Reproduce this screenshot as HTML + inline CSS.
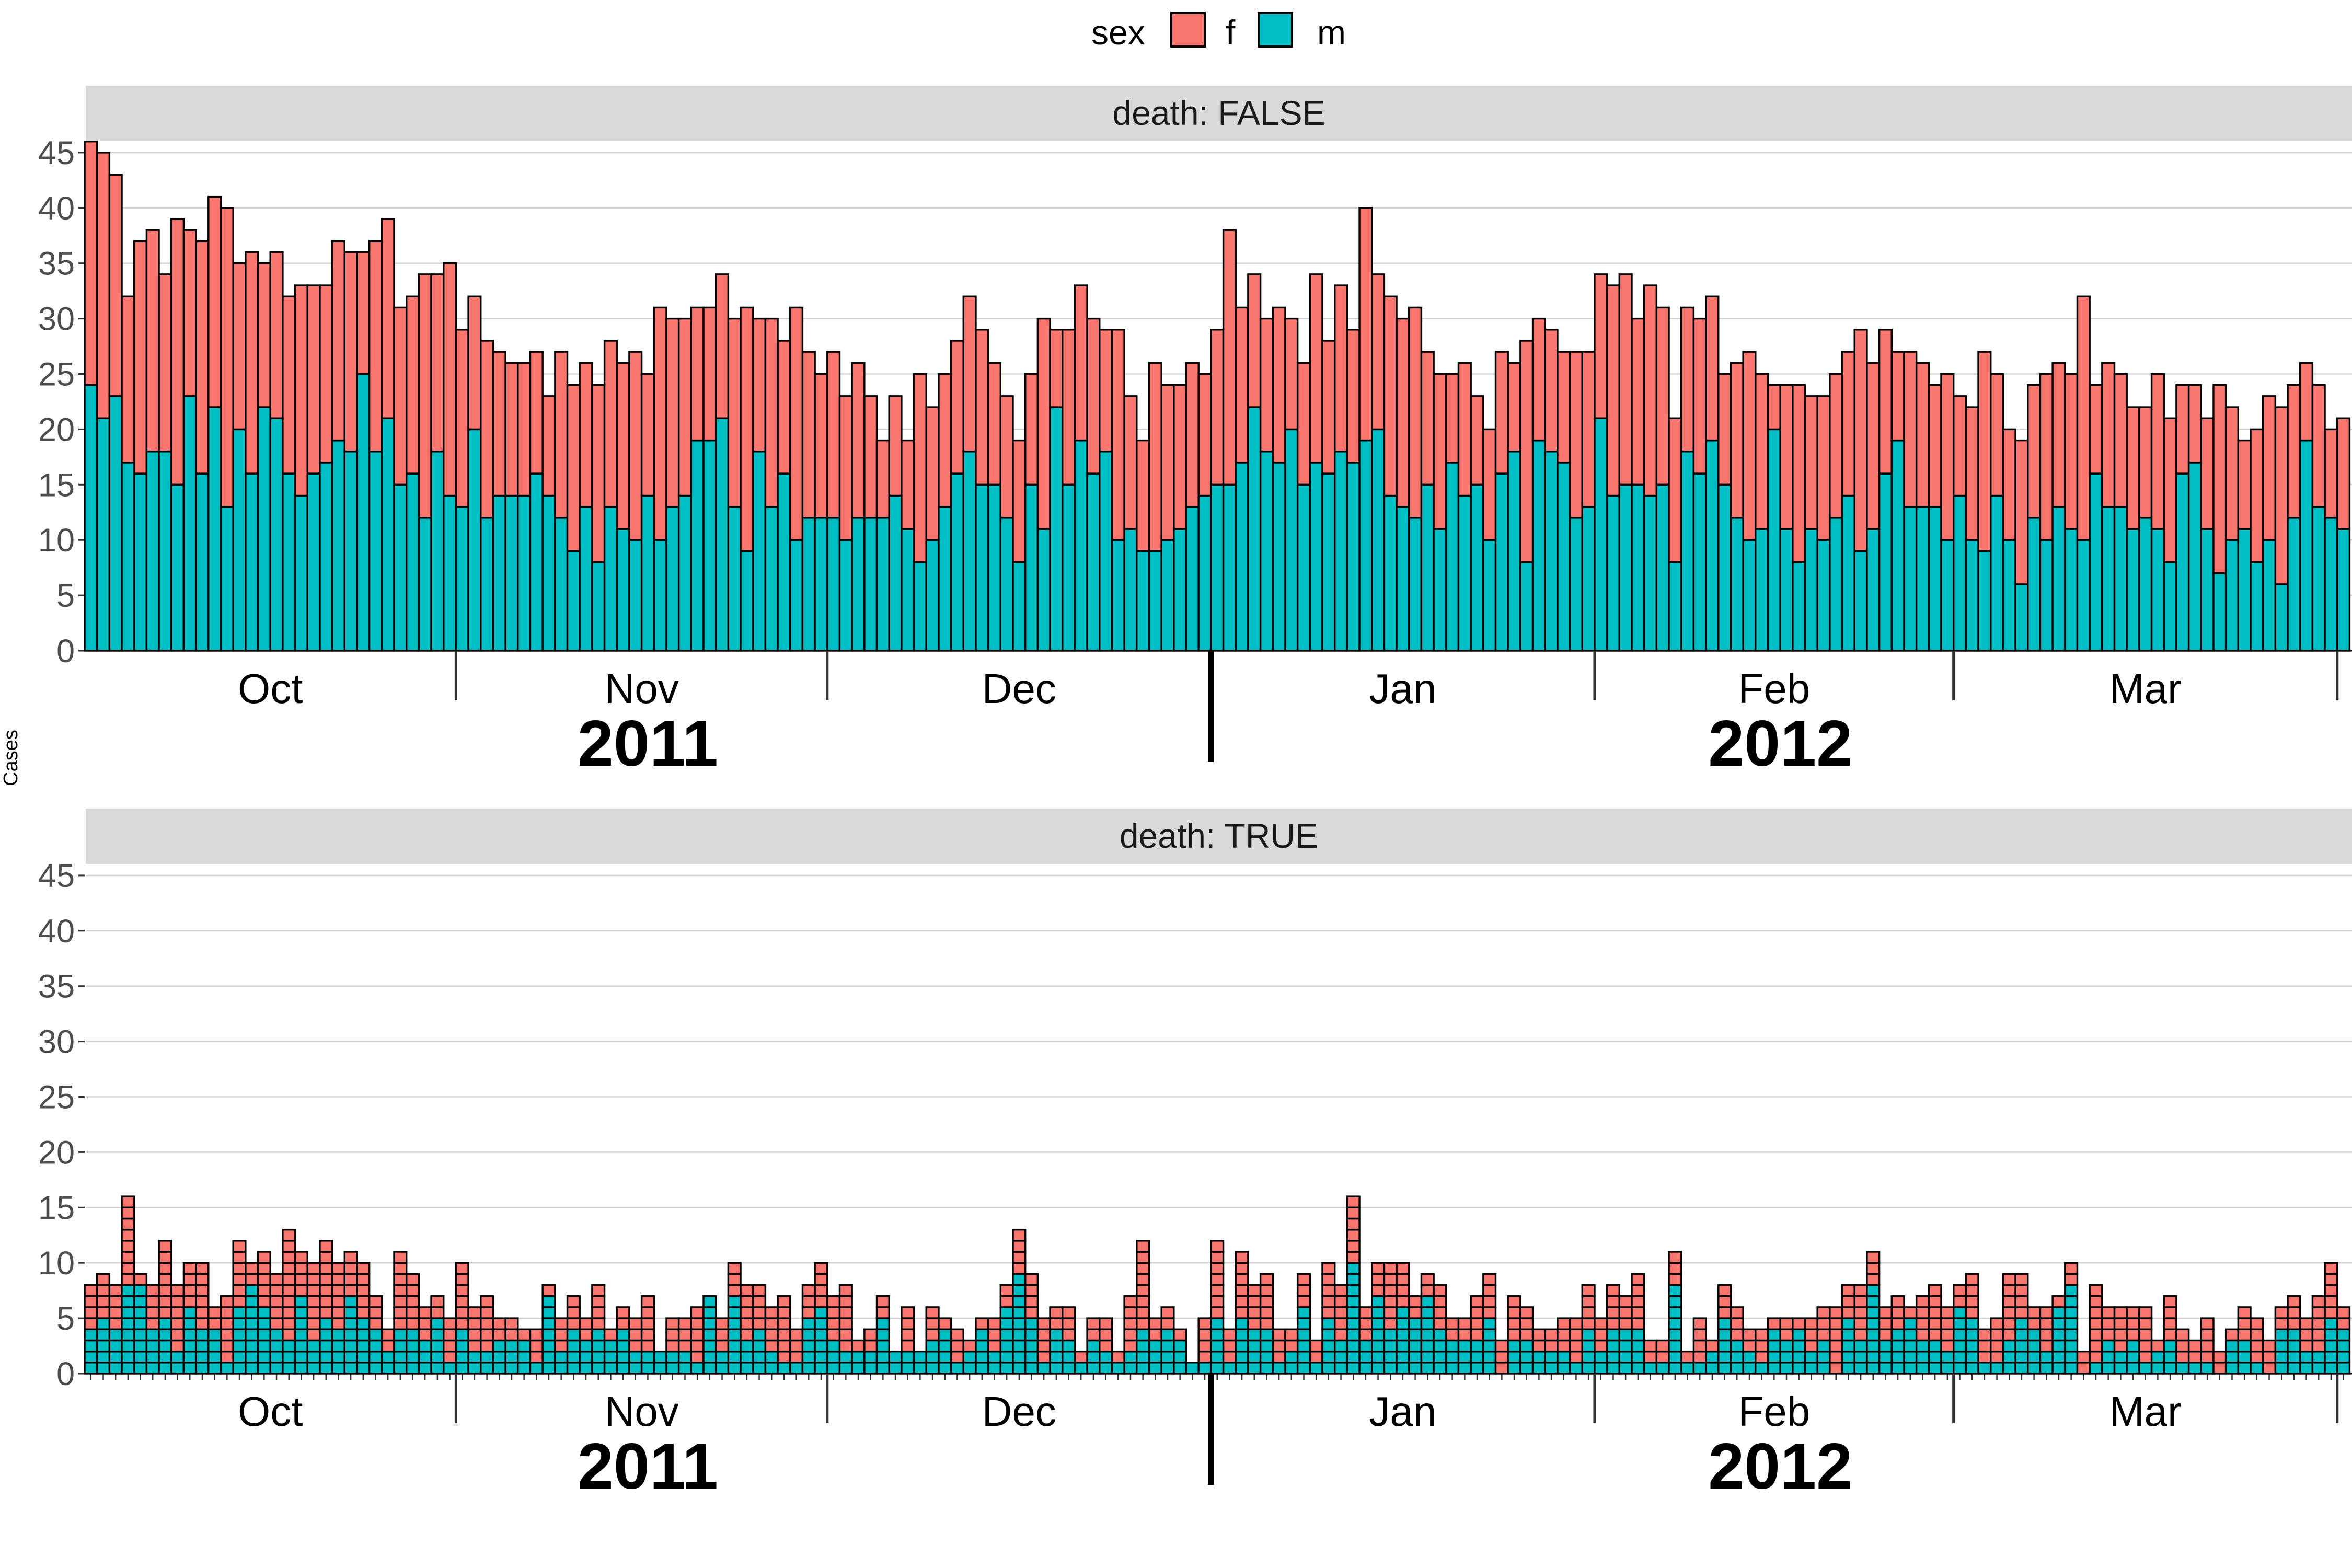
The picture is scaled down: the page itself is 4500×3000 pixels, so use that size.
<!DOCTYPE html>
<html><head><meta charset="utf-8"><style>
html,body{margin:0;padding:0;background:#fff;}
svg{display:block;font-family:"Liberation Sans",sans-serif;}
</style></head><body>
<svg id="chart" width="4500" height="3000" viewBox="0 0 4500 3000" xmlns="http://www.w3.org/2000/svg">
<g>
<text x="2088" y="85" font-size="66" fill="#000">sex</text>
<rect x="2241" y="25" width="64" height="64" fill="#F8766D" stroke="#000" stroke-width="4"/>
<text x="2345" y="85" font-size="66">f</text>
<rect x="2408" y="25" width="64" height="64" fill="#00BFC4" stroke="#000" stroke-width="4"/>
<text x="2520" y="85" font-size="66">m</text>
</g>
<text transform="translate(33,1450) rotate(-90)" text-anchor="middle" font-size="38">Cases</text>
<g id="panels"></g>
</svg>
<script>
const maleTop=[24,21,23,17,16,18,18,15,23,16,22,13,20,16,22,21,16,14,16,17,19,18,25,18,21,15,16,12,18,14,13,
20,12,14,14,14,16,14,12,9,13,8,13,11,10,14,10,13,14,19,19,21,13,9,18,13,16,10,12,12,12,
10,12,12,12,14,11,8,10,13,16,18,15,15,12,8,15,11,22,15,19,16,18,10,11,9,9,10,11,13,14,
15,15,17,22,18,17,20,15,17,16,18,17,19,20,14,13,12,15,11,17,14,15,10,16,18,8,19,18,17,12,13,
21,14,15,15,14,15,8,18,16,19,15,12,10,11,20,11,8,11,10,12,14,9,11,16,19,13,13,13,10,14,
10,9,14,10,6,12,10,13,11,10,16,13,13,11,12,11,8,16,17,11,7,10,11,8,10,6,12,19,13,12,11];
const femaleTop=[22,24,20,15,21,20,16,24,15,21,19,27,15,20,13,15,16,19,17,16,18,18,11,19,18,16,16,22,16,21,16,
12,16,13,12,12,11,9,15,15,13,16,15,15,17,11,21,17,16,12,12,13,17,22,12,17,12,21,15,13,15,
13,14,11,7,9,8,17,12,12,12,14,14,11,11,11,10,19,7,14,14,14,11,19,12,10,17,14,13,13,11,
14,23,14,12,12,14,10,11,17,12,15,12,21,14,18,17,19,12,14,8,12,8,10,11,8,20,11,11,10,15,14,
13,19,19,15,19,16,13,13,14,13,10,14,17,14,4,13,16,12,13,13,13,20,15,13,8,14,13,11,15,9,
12,18,11,10,13,12,15,13,14,22,8,13,12,11,10,14,13,8,7,10,17,12,8,12,13,16,12,7,11,8,10];
const maleBottom=[4,5,4,8,8,4,5,2,6,4,4,1,6,8,6,4,3,7,3,5,4,7,5,4,2,4,4,3,5,1,4,2,2,3,3,3,1,7,2,4,3,4,3,4,2,2,
2,2,2,1,7,2,7,3,4,2,1,1,5,6,3,2,2,2,5,2,2,2,3,4,1,2,4,2,6,9,5,1,4,3,1,3,2,1,2,4,3,4,3,1,1,
5,1,5,4,4,1,2,6,1,5,3,10,3,7,4,6,5,7,4,3,3,3,5,0,3,3,2,2,2,1,4,2,4,4,4,1,1,8,1,1,2,5,3,2,1,4,
3,4,2,3,0,5,3,8,3,4,5,3,3,2,6,5,1,1,3,5,4,2,6,8,0,1,3,2,3,1,2,3,1,1,1,0,3,3,1,0,4,4,2,2,5,4];
const femaleBottom=[4,4,4,8,1,4,7,6,4,6,2,6,6,2,5,5,10,4,7,7,6,4,5,3,2,7,5,3,2,4,6,4,5,2,2,1,3,1,3,3,2,4,1,2,3,5,
0,3,3,5,0,3,3,5,4,4,6,3,3,4,4,6,1,2,2,0,4,0,3,1,3,1,1,3,2,4,4,4,2,3,1,2,3,1,5,8,2,2,1,0,4,
7,3,6,4,5,3,2,3,2,5,5,6,3,3,6,4,2,2,4,2,2,4,4,3,4,3,2,2,3,4,4,3,4,3,5,2,2,3,1,4,1,3,3,2,3,1,
2,1,3,3,6,3,5,3,3,3,1,4,5,4,2,4,3,4,6,4,2,4,1,2,2,7,3,4,3,5,1,4,3,2,4,2,1,3,4,3,2,3,3,5,5,2];
const yTicks=[0,5,10,15,20,25,30,35,40,45];
const monthLabels=["Oct","Nov","Dec","Jan","Feb","Mar"];
const monthStartIdx=[0,30,60,91,122,151,182];
const yearLabels=["2011","2012"];
const yearStartIdx=[0,91,183];
const panelTitles=["death: FALSE","death: TRUE"];

const NS="http://www.w3.org/2000/svg";
const root=document.getElementById('panels');
const X0=162, STEP=23.68, XR=4500, UNIT=21.18;
function xPos(i){return X0+i*STEP;}
function mk(tag,attrs,parent){const e=document.createElementNS(NS,tag);for(const k in attrs)e.setAttribute(k,attrs[k]);parent.appendChild(e);return e;}
const F="#F8766D", M="#00BFC4";

[0,1].forEach(function(p){
  const off=p*1383;
  const y0=1245+off;
  function yPos(v){return y0-v*UNIT;}
  const g=mk('g',{},root);
  
  
  const strip=mk('rect',{x:164,y:164+off,width:4336,height:106,fill:'#d9d9d9'},g);
  
  
  const st=mk('text',{x:2332,y:239+off,'text-anchor':'middle','font-size':66,fill:'#1a1a1a'},g);
  st.textContent=panelTitles[p];
  
  
  yTicks.forEach(function(t){
    const gl=mk('line',{x1:164,x2:4500,y1:yPos(t),y2:yPos(t),stroke:'#d3d3d3','stroke-width':2.6},g);
    
    
    const tk=mk('line',{x1:150,x2:162,y1:yPos(t),y2:yPos(t),stroke:'#333','stroke-width':3},g);
    
    
    const lb=mk('text',{x:143,y:yPos(t)+22,'text-anchor':'end','font-size':63,fill:'#4d4d4d'},g);
    lb.textContent=t;
    
    
  });
  const bars=mk('g',{},g);
  
  
  if(p===0){
    maleTop.forEach(function(m,i){
      const f=femaleTop[i];
      const r1=mk('rect',{x:xPos(i),y:yPos(m),width:STEP,height:m*UNIT,fill:M,stroke:'#000','stroke-width':3.4},bars);
      
      
      const r2=mk('rect',{x:xPos(i),y:yPos(m+f),width:STEP,height:f*UNIT,fill:F,stroke:'#000','stroke-width':3.4},bars);
      
      
    });
  } else {
    maleBottom.forEach(function(m,i){
      const f=femaleBottom[i];
      for(let k=0;k<m+f;k++){
        const c=mk('rect',{x:xPos(i),y:yPos(k+1),width:STEP,height:UNIT,fill:k<m?M:F,stroke:'#000','stroke-width':3.4},bars);
        
        
      }
      const dt=mk('line',{x1:xPos(i+0.5),x2:xPos(i+0.5),y1:y0,y2:y0+12,stroke:'#333','stroke-width':2.5},g);
      
      
    });
  }
  const ax=mk('line',{x1:162,x2:4500,y1:y0,y2:y0,stroke:'#000','stroke-width':3},g);
  
  
  monthStartIdx.forEach(function(s,j){
    if(j>0 && j!==3){
      const mt=mk('line',{x1:xPos(s),x2:xPos(s),y1:y0,y2:y0+95,stroke:'#333','stroke-width':5},g);
      
      
    }
    if(j<monthLabels.length){
      const ml=mk('text',{x:(xPos(s)+xPos(monthStartIdx[j+1]))/2,y:y0+100,'text-anchor':'middle','font-size':80,fill:'#000'},g);
      ml.textContent=monthLabels[j];
      
      
    }
  });
  const yt=mk('line',{x1:xPos(yearStartIdx[1]),x2:xPos(yearStartIdx[1]),y1:y0,y2:y0+213,stroke:'#000','stroke-width':11},g);
  
  
  yearLabels.forEach(function(yl,j){
    const cx=(xPos(yearStartIdx[j])+Math.min(XR,xPos(yearStartIdx[j+1])))/2;
    const t=mk('text',{x:cx,y:y0+220,'text-anchor':'middle','font-size':124,'font-weight':'bold',fill:'#000'},g);
    t.textContent=yl;
    
    
  });
});
</script>
</body></html>
